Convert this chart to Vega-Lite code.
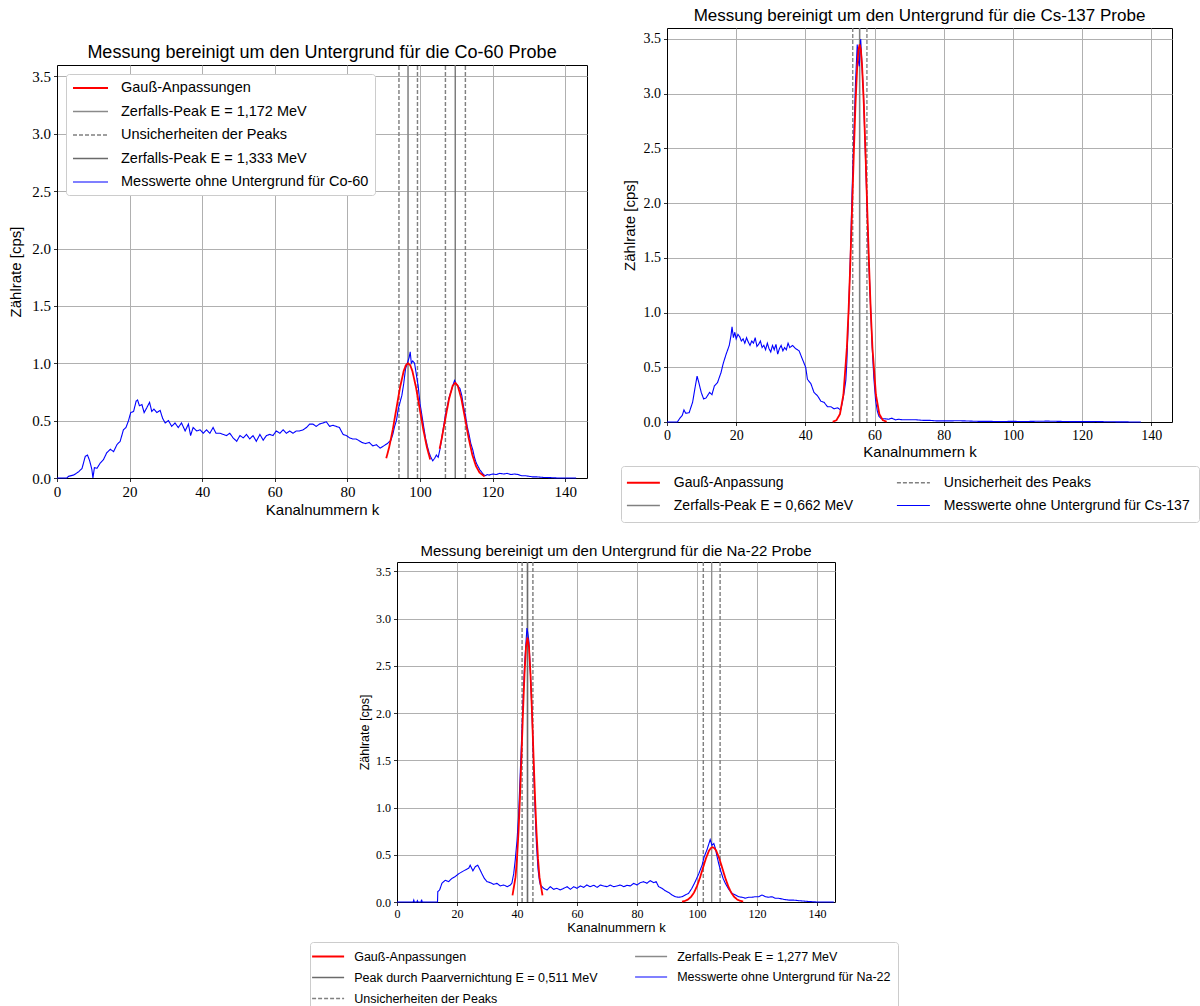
{
"$schema": "https://vega.github.io/schema/vega-lite/v6.json",
"padding": {"left": 8, "top": 6, "right": 0, "bottom": 0},
"datasets": {
"co_b": [{"s":"b","x":0,"y":0},{"s":"b","x":2.7,"y":0},{"s":"b","x":3.2,"y":0.015},{"s":"b","x":4.6,"y":0.026},{"s":"b","x":6.0,"y":0.055},{"s":"b","x":6.9,"y":0.084},{"s":"b","x":7.8,"y":0.19},{"s":"b","x":8.4,"y":0.2},{"s":"b","x":9.0,"y":0.15},{"s":"b","x":9.6,"y":0.075},{"s":"b","x":9.9,"y":0.0},{"s":"b","x":10.3,"y":0.09},{"s":"b","x":11.0,"y":0.084},{"s":"b","x":11.9,"y":0.13},{"s":"b","x":12.8,"y":0.16},{"s":"b","x":13.7,"y":0.22},{"s":"b","x":14.7,"y":0.25},{"s":"b","x":15.6,"y":0.23},{"s":"b","x":16.5,"y":0.29},{"s":"b","x":17.4,"y":0.32},{"s":"b","x":18.3,"y":0.42},{"s":"b","x":19.0,"y":0.44},{"s":"b","x":19.7,"y":0.5},{"s":"b","x":20.3,"y":0.57},{"s":"b","x":21.1,"y":0.58},{"s":"b","x":21.8,"y":0.67},{"s":"b","x":22.2,"y":0.68},{"s":"b","x":22.7,"y":0.63},{"s":"b","x":23.4,"y":0.64},{"s":"b","x":24.0,"y":0.57},{"s":"b","x":24.7,"y":0.61},{"s":"b","x":25.5,"y":0.66},{"s":"b","x":26.1,"y":0.58},{"s":"b","x":26.7,"y":0.6},{"s":"b","x":27.5,"y":0.57},{"s":"b","x":28.4,"y":0.59},{"s":"b","x":29.1,"y":0.52},{"s":"b","x":29.8,"y":0.48},{"s":"b","x":30.7,"y":0.5},{"s":"b","x":31.6,"y":0.45},{"s":"b","x":32.5,"y":0.48},{"s":"b","x":33.4,"y":0.44},{"s":"b","x":34.3,"y":0.48},{"s":"b","x":35.3,"y":0.41},{"s":"b","x":36.2,"y":0.47},{"s":"b","x":36.8,"y":0.37},{"s":"b","x":37.5,"y":0.44},{"s":"b","x":38.5,"y":0.41},{"s":"b","x":39.4,"y":0.42},{"s":"b","x":40.3,"y":0.39},{"s":"b","x":41.2,"y":0.42},{"s":"b","x":42.1,"y":0.39},{"s":"b","x":43.0,"y":0.44},{"s":"b","x":43.8,"y":0.39},{"s":"b","x":44.9,"y":0.39},{"s":"b","x":45.8,"y":0.38},{"s":"b","x":46.7,"y":0.37},{"s":"b","x":47.6,"y":0.39},{"s":"b","x":48.5,"y":0.35},{"s":"b","x":49.5,"y":0.32},{"s":"b","x":50.4,"y":0.37},{"s":"b","x":51.3,"y":0.35},{"s":"b","x":52.2,"y":0.38},{"s":"b","x":53.1,"y":0.34},{"s":"b","x":54.0,"y":0.37},{"s":"b","x":54.9,"y":0.32},{"s":"b","x":55.9,"y":0.38},{"s":"b","x":56.8,"y":0.33},{"s":"b","x":57.7,"y":0.37},{"s":"b","x":58.6,"y":0.38},{"s":"b","x":59.5,"y":0.37},{"s":"b","x":60.4,"y":0.41},{"s":"b","x":61.4,"y":0.39},{"s":"b","x":62.3,"y":0.42},{"s":"b","x":63.2,"y":0.39},{"s":"b","x":64.1,"y":0.41},{"s":"b","x":65.0,"y":0.39},{"s":"b","x":65.9,"y":0.41},{"s":"b","x":66.8,"y":0.41},{"s":"b","x":67.8,"y":0.42},{"s":"b","x":68.7,"y":0.44},{"s":"b","x":69.6,"y":0.47},{"s":"b","x":70.5,"y":0.47},{"s":"b","x":71.4,"y":0.45},{"s":"b","x":72.3,"y":0.47},{"s":"b","x":73.3,"y":0.48},{"s":"b","x":74.2,"y":0.49},{"s":"b","x":75.1,"y":0.45},{"s":"b","x":76.0,"y":0.46},{"s":"b","x":76.9,"y":0.45},{"s":"b","x":77.8,"y":0.44},{"s":"b","x":78.8,"y":0.38},{"s":"b","x":79.7,"y":0.37},{"s":"b","x":80.6,"y":0.35},{"s":"b","x":81.5,"y":0.34},{"s":"b","x":82.4,"y":0.34},{"s":"b","x":83,"y":0.33},{"s":"b","x":84,"y":0.31},{"s":"b","x":85,"y":0.3},{"s":"b","x":86,"y":0.31},{"s":"b","x":87,"y":0.28},{"s":"b","x":88,"y":0.29},{"s":"b","x":89,"y":0.26},{"s":"b","x":90,"y":0.28},{"s":"b","x":91,"y":0.3},{"s":"b","x":92,"y":0.33},{"s":"b","x":92.5,"y":0.38},{"s":"b","x":93,"y":0.45},{"s":"b","x":93.5,"y":0.5},{"s":"b","x":94,"y":0.6},{"s":"b","x":95,"y":0.72},{"s":"b","x":95.5,"y":0.82},{"s":"b","x":96,"y":0.95},{"s":"b","x":96.5,"y":1.0},{"s":"b","x":97,"y":1.05},{"s":"b","x":97.3,"y":1.1},{"s":"b","x":97.6,"y":1.0},{"s":"b","x":98,"y":1.02},{"s":"b","x":98.5,"y":1.0},{"s":"b","x":99,"y":0.9},{"s":"b","x":99.5,"y":0.8},{"s":"b","x":100,"y":0.65},{"s":"b","x":100.5,"y":0.55},{"s":"b","x":101,"y":0.45},{"s":"b","x":101.5,"y":0.35},{"s":"b","x":102,"y":0.28},{"s":"b","x":102.5,"y":0.22},{"s":"b","x":103,"y":0.18},{"s":"b","x":103.5,"y":0.15},{"s":"b","x":104,"y":0.17},{"s":"b","x":104.5,"y":0.2},{"s":"b","x":105,"y":0.18},{"s":"b","x":105.5,"y":0.25},{"s":"b","x":106,"y":0.35},{"s":"b","x":106.5,"y":0.45},{"s":"b","x":107,"y":0.55},{"s":"b","x":107.5,"y":0.62},{"s":"b","x":108,"y":0.7},{"s":"b","x":108.5,"y":0.75},{"s":"b","x":109,"y":0.8},{"s":"b","x":109.5,"y":0.85},{"s":"b","x":110,"y":0.82},{"s":"b","x":110.5,"y":0.8},{"s":"b","x":111,"y":0.78},{"s":"b","x":111.5,"y":0.72},{"s":"b","x":112,"y":0.62},{"s":"b","x":112.5,"y":0.55},{"s":"b","x":113,"y":0.45},{"s":"b","x":113.5,"y":0.38},{"s":"b","x":114,"y":0.3},{"s":"b","x":114.5,"y":0.25},{"s":"b","x":115,"y":0.18},{"s":"b","x":115.5,"y":0.13},{"s":"b","x":116,"y":0.1},{"s":"b","x":116.5,"y":0.07},{"s":"b","x":117,"y":0.05},{"s":"b","x":117.5,"y":0.03},{"s":"b","x":118,"y":0.02},{"s":"b","x":118.5,"y":0.03},{"s":"b","x":119,"y":0.025},{"s":"b","x":120,"y":0.035},{"s":"b","x":121,"y":0.03},{"s":"b","x":122,"y":0.04},{"s":"b","x":123,"y":0.035},{"s":"b","x":124,"y":0.04},{"s":"b","x":125,"y":0.03},{"s":"b","x":126,"y":0.035},{"s":"b","x":127,"y":0.03},{"s":"b","x":128,"y":0.02},{"s":"b","x":129,"y":0.02},{"s":"b","x":130,"y":0.015},{"s":"b","x":131,"y":0.01},{"s":"b","x":132,"y":0.01},{"s":"b","x":134,"y":0.005},{"s":"b","x":136,"y":0.003},{"s":"b","x":138,"y":0},{"s":"b","x":143,"y":0}],
"co_r": [{"s":"r","g":"r1","x":90.7,"y":0.172},{"s":"r","g":"r1","x":91.5,"y":0.267},{"s":"r","g":"r1","x":92.5,"y":0.423},{"s":"r","g":"r1","x":93.5,"y":0.607},{"s":"r","g":"r1","x":94.5,"y":0.79},{"s":"r","g":"r1","x":95.5,"y":0.932},{"s":"r","g":"r1","x":96.1,"y":0.983},{"s":"r","g":"r1","x":96.7,"y":1.0},{"s":"r","g":"r1","x":97.3,"y":0.983},{"s":"r","g":"r1","x":97.9,"y":0.932},{"s":"r","g":"r1","x":98.9,"y":0.79},{"s":"r","g":"r1","x":99.9,"y":0.607},{"s":"r","g":"r1","x":100.9,"y":0.423},{"s":"r","g":"r1","x":101.9,"y":0.267},{"s":"r","g":"r1","x":102.8,"y":0.162},{"s":"r","g":"r2","x":105.4,"y":0.255},{"s":"r","g":"r2","x":106,"y":0.347},{"s":"r","g":"r2","x":107,"y":0.521},{"s":"r","g":"r2","x":108,"y":0.69},{"s":"r","g":"r2","x":109,"y":0.804},{"s":"r","g":"r2","x":109.7,"y":0.83},{"s":"r","g":"r2","x":110.4,"y":0.804},{"s":"r","g":"r2","x":111.4,"y":0.69},{"s":"r","g":"r2","x":112.4,"y":0.521},{"s":"r","g":"r2","x":113.4,"y":0.347},{"s":"r","g":"r2","x":114.4,"y":0.203},{"s":"r","g":"r2","x":115.4,"y":0.105},{"s":"r","g":"r2","x":116.4,"y":0.047},{"s":"r","g":"r2","x":117.8,"y":0.013}],
"co_v": [{"s":"d","g":"a","x":94.2,"y":0},{"s":"d","g":"a","x":94.2,"y":3.6},{"s":"v1","g":"b","x":96.7,"y":0},{"s":"v1","g":"b","x":96.7,"y":3.6},{"s":"d","g":"c","x":99.3,"y":0},{"s":"d","g":"c","x":99.3,"y":3.6},{"s":"d","g":"e","x":107.0,"y":0},{"s":"d","g":"e","x":107.0,"y":3.6},{"s":"v2","g":"f","x":109.7,"y":0},{"s":"v2","g":"f","x":109.7,"y":3.6},{"s":"d","g":"h","x":112.5,"y":0},{"s":"d","g":"h","x":112.5,"y":3.6}],
"cs_b": [{"s":"b","x":0,"y":0},{"s":"b","x":3.0,"y":0},{"s":"b","x":3.7,"y":0.034},{"s":"b","x":4.4,"y":0.06},{"s":"b","x":4.9,"y":0.11},{"s":"b","x":5.4,"y":0.08},{"s":"b","x":6.4,"y":0.085},{"s":"b","x":7.4,"y":0.18},{"s":"b","x":8.2,"y":0.33},{"s":"b","x":8.7,"y":0.42},{"s":"b","x":9.2,"y":0.36},{"s":"b","x":9.9,"y":0.27},{"s":"b","x":10.6,"y":0.21},{"s":"b","x":11.3,"y":0.22},{"s":"b","x":12.3,"y":0.27},{"s":"b","x":13.0,"y":0.25},{"s":"b","x":13.7,"y":0.33},{"s":"b","x":14.6,"y":0.36},{"s":"b","x":15.6,"y":0.45},{"s":"b","x":16.3,"y":0.54},{"s":"b","x":17.1,"y":0.62},{"s":"b","x":18.0,"y":0.7},{"s":"b","x":18.5,"y":0.79},{"s":"b","x":18.8,"y":0.87},{"s":"b","x":19.2,"y":0.77},{"s":"b","x":19.6,"y":0.82},{"s":"b","x":20,"y":0.76},{"s":"b","x":20.5,"y":0.8},{"s":"b","x":21,"y":0.78},{"s":"b","x":21.5,"y":0.74},{"s":"b","x":22,"y":0.76},{"s":"b","x":22.5,"y":0.72},{"s":"b","x":23,"y":0.77},{"s":"b","x":23.5,"y":0.73},{"s":"b","x":24,"y":0.7},{"s":"b","x":24.5,"y":0.74},{"s":"b","x":25,"y":0.72},{"s":"b","x":25.5,"y":0.77},{"s":"b","x":26,"y":0.69},{"s":"b","x":26.5,"y":0.71},{"s":"b","x":27,"y":0.74},{"s":"b","x":27.5,"y":0.68},{"s":"b","x":28,"y":0.7},{"s":"b","x":28.5,"y":0.66},{"s":"b","x":29,"y":0.72},{"s":"b","x":29.5,"y":0.67},{"s":"b","x":30,"y":0.64},{"s":"b","x":30.5,"y":0.7},{"s":"b","x":31,"y":0.66},{"s":"b","x":31.5,"y":0.71},{"s":"b","x":32,"y":0.62},{"s":"b","x":32.5,"y":0.67},{"s":"b","x":33,"y":0.7},{"s":"b","x":33.5,"y":0.65},{"s":"b","x":34,"y":0.68},{"s":"b","x":34.5,"y":0.66},{"s":"b","x":35,"y":0.72},{"s":"b","x":35.5,"y":0.68},{"s":"b","x":36.3,"y":0.7},{"s":"b","x":37.2,"y":0.67},{"s":"b","x":38.2,"y":0.65},{"s":"b","x":39.2,"y":0.57},{"s":"b","x":40.1,"y":0.5},{"s":"b","x":40.6,"y":0.39},{"s":"b","x":41.6,"y":0.35},{"s":"b","x":42.5,"y":0.27},{"s":"b","x":43.5,"y":0.24},{"s":"b","x":44.5,"y":0.19},{"s":"b","x":45.4,"y":0.18},{"s":"b","x":46.4,"y":0.14},{"s":"b","x":47.4,"y":0.14},{"s":"b","x":48.3,"y":0.12},{"s":"b","x":49.3,"y":0.13},{"s":"b","x":50.2,"y":0.11},{"s":"b","x":50.7,"y":0.18},{"s":"b","x":51.2,"y":0.27},{"s":"b","x":51.7,"y":0.38},{"s":"b","x":52,"y":0.55},{"s":"b","x":52.5,"y":1.0},{"s":"b","x":53,"y":1.5},{"s":"b","x":53.5,"y":2.1},{"s":"b","x":54,"y":2.6},{"s":"b","x":54.5,"y":3.1},{"s":"b","x":55,"y":3.45},{"s":"b","x":55.3,"y":3.3},{"s":"b","x":55.6,"y":3.25},{"s":"b","x":56,"y":3.5},{"s":"b","x":56.3,"y":3.3},{"s":"b","x":56.8,"y":3.0},{"s":"b","x":57.3,"y":2.5},{"s":"b","x":57.8,"y":2.0},{"s":"b","x":58.3,"y":1.5},{"s":"b","x":58.8,"y":1.1},{"s":"b","x":59.3,"y":0.7},{"s":"b","x":59.8,"y":0.4},{"s":"b","x":60.3,"y":0.2},{"s":"b","x":60.8,"y":0.1},{"s":"b","x":61.3,"y":0.05},{"s":"b","x":62,"y":0.03},{"s":"b","x":63,"y":0.03},{"s":"b","x":64,"y":0.025},{"s":"b","x":65,"y":0.035},{"s":"b","x":66,"y":0.02},{"s":"b","x":67,"y":0.025},{"s":"b","x":68,"y":0.02},{"s":"b","x":70,"y":0.02},{"s":"b","x":72,"y":0.02},{"s":"b","x":74,"y":0.015},{"s":"b","x":76,"y":0.015},{"s":"b","x":78,"y":0.01},{"s":"b","x":80,"y":0.01},{"s":"b","x":82,"y":0.01},{"s":"b","x":84,"y":0.012},{"s":"b","x":86,"y":0.01},{"s":"b","x":88,"y":0.008},{"s":"b","x":90,"y":0.006},{"s":"b","x":92,"y":0.006},{"s":"b","x":95,"y":0.005},{"s":"b","x":98,"y":0.005},{"s":"b","x":100,"y":0.006},{"s":"b","x":103,"y":0.004},{"s":"b","x":106,"y":0.006},{"s":"b","x":110,"y":0.008},{"s":"b","x":113,"y":0.006},{"s":"b","x":116,"y":0.004},{"s":"b","x":120,"y":0.003},{"s":"b","x":124,"y":0.004},{"s":"b","x":128,"y":0.002},{"s":"b","x":132,"y":0.001},{"s":"b","x":137,"y":0}],
"cs_r": [{"s":"r","x":47.9,"y":0.0025},{"s":"r","x":49,"y":0.0166},{"s":"r","x":50,"y":0.072},{"s":"r","x":51,"y":0.249},{"s":"r","x":52,"y":0.677},{"s":"r","x":52.5,"y":1.02},{"s":"r","x":53,"y":1.449},{"s":"r","x":53.5,"y":1.939},{"s":"r","x":54,"y":2.446},{"s":"r","x":54.5,"y":2.908},{"s":"r","x":55,"y":3.254},{"s":"r","x":55.35,"y":3.4},{"s":"r","x":55.7,"y":3.45},{"s":"r","x":56.05,"y":3.4},{"s":"r","x":56.4,"y":3.254},{"s":"r","x":56.9,"y":2.908},{"s":"r","x":57.4,"y":2.446},{"s":"r","x":57.9,"y":1.939},{"s":"r","x":58.4,"y":1.449},{"s":"r","x":58.9,"y":1.02},{"s":"r","x":59.4,"y":0.677},{"s":"r","x":60.4,"y":0.249},{"s":"r","x":61.4,"y":0.072},{"s":"r","x":62.4,"y":0.0166},{"s":"r","x":63.5,"y":0.0025}],
"cs_v": [{"s":"d","g":"a","x":53.7,"y":0},{"s":"d","g":"a","x":53.7,"y":3.6},{"s":"v","g":"b","x":55.7,"y":0},{"s":"v","g":"b","x":55.7,"y":3.6},{"s":"d","g":"c","x":57.8,"y":0},{"s":"d","g":"c","x":57.8,"y":3.6}],
"na_b": [{"s":"b","x":0,"y":0},{"s":"b","x":5.4,"y":0},{"s":"b","x":5.6,"y":0.02},{"s":"b","x":5.8,"y":0},{"s":"b","x":6.6,"y":0},{"s":"b","x":6.8,"y":0.015},{"s":"b","x":7.0,"y":0},{"s":"b","x":8.0,"y":0},{"s":"b","x":8.2,"y":0.025},{"s":"b","x":8.4,"y":0},{"s":"b","x":13.5,"y":0},{"s":"b","x":13.6,"y":0.11},{"s":"b","x":14.2,"y":0.127},{"s":"b","x":15.0,"y":0.2},{"s":"b","x":16.1,"y":0.23},{"s":"b","x":17.2,"y":0.215},{"s":"b","x":18.3,"y":0.25},{"s":"b","x":19.4,"y":0.27},{"s":"b","x":20.6,"y":0.3},{"s":"b","x":21.7,"y":0.32},{"s":"b","x":22.8,"y":0.34},{"s":"b","x":23.9,"y":0.357},{"s":"b","x":24.4,"y":0.39},{"s":"b","x":25.3,"y":0.33},{"s":"b","x":26.1,"y":0.374},{"s":"b","x":26.9,"y":0.39},{"s":"b","x":27.6,"y":0.346},{"s":"b","x":28.3,"y":0.3},{"s":"b","x":29.1,"y":0.25},{"s":"b","x":30.0,"y":0.215},{"s":"b","x":31.1,"y":0.205},{"s":"b","x":32.2,"y":0.187},{"s":"b","x":33.3,"y":0.198},{"s":"b","x":34.4,"y":0.17},{"s":"b","x":35.6,"y":0.18},{"s":"b","x":36.7,"y":0.162},{"s":"b","x":37.8,"y":0.18},{"s":"b","x":38.3,"y":0.2},{"s":"b","x":38.9,"y":0.3},{"s":"b","x":39.4,"y":0.44},{"s":"b","x":40,"y":0.65},{"s":"b","x":40.5,"y":0.9},{"s":"b","x":41,"y":1.3},{"s":"b","x":41.5,"y":1.7},{"s":"b","x":42,"y":2.1},{"s":"b","x":42.5,"y":2.5},{"s":"b","x":43,"y":2.75},{"s":"b","x":43.3,"y":2.9},{"s":"b","x":43.6,"y":2.85},{"s":"b","x":44,"y":2.75},{"s":"b","x":44.5,"y":2.4},{"s":"b","x":45,"y":2.0},{"s":"b","x":45.5,"y":1.5},{"s":"b","x":46,"y":1.0},{"s":"b","x":46.5,"y":0.6},{"s":"b","x":47,"y":0.35},{"s":"b","x":47.5,"y":0.22},{"s":"b","x":47.8,"y":0.18},{"s":"b","x":48.9,"y":0.145},{"s":"b","x":50.0,"y":0.127},{"s":"b","x":51.1,"y":0.162},{"s":"b","x":52.2,"y":0.134},{"s":"b","x":53.3,"y":0.145},{"s":"b","x":54.4,"y":0.127},{"s":"b","x":55.6,"y":0.145},{"s":"b","x":56.7,"y":0.162},{"s":"b","x":57.8,"y":0.134},{"s":"b","x":58.9,"y":0.162},{"s":"b","x":60.0,"y":0.145},{"s":"b","x":61.1,"y":0.17},{"s":"b","x":62.2,"y":0.155},{"s":"b","x":63.3,"y":0.18},{"s":"b","x":64.4,"y":0.162},{"s":"b","x":65.6,"y":0.177},{"s":"b","x":66.7,"y":0.155},{"s":"b","x":67.8,"y":0.18},{"s":"b","x":68.9,"y":0.17},{"s":"b","x":70.0,"y":0.162},{"s":"b","x":71.1,"y":0.18},{"s":"b","x":72.2,"y":0.162},{"s":"b","x":73.3,"y":0.17},{"s":"b","x":74.4,"y":0.18},{"s":"b","x":75.6,"y":0.162},{"s":"b","x":76.7,"y":0.177},{"s":"b","x":77.8,"y":0.17},{"s":"b","x":78.9,"y":0.198},{"s":"b","x":80.0,"y":0.18},{"s":"b","x":81.1,"y":0.205},{"s":"b","x":82.2,"y":0.215},{"s":"b","x":83.3,"y":0.198},{"s":"b","x":84.4,"y":0.226},{"s":"b","x":85.6,"y":0.205},{"s":"b","x":86.4,"y":0.215},{"s":"b","x":87.2,"y":0.162},{"s":"b","x":88.3,"y":0.145},{"s":"b","x":89.4,"y":0.12},{"s":"b","x":90.6,"y":0.1},{"s":"b","x":91.7,"y":0.074},{"s":"b","x":92.8,"y":0.056},{"s":"b","x":93.9,"y":0.05},{"s":"b","x":95.0,"y":0.056},{"s":"b","x":96.1,"y":0.074},{"s":"b","x":97.2,"y":0.092},{"s":"b","x":98.3,"y":0.145},{"s":"b","x":99.4,"y":0.215},{"s":"b","x":100.6,"y":0.3},{"s":"b","x":101.7,"y":0.39},{"s":"b","x":102.4,"y":0.48},{"s":"b","x":103.3,"y":0.55},{"s":"b","x":104.0,"y":0.62},{"s":"b","x":104.4,"y":0.66},{"s":"b","x":105.0,"y":0.6},{"s":"b","x":105.6,"y":0.62},{"s":"b","x":106.1,"y":0.57},{"s":"b","x":106.7,"y":0.48},{"s":"b","x":107.2,"y":0.41},{"s":"b","x":107.8,"y":0.34},{"s":"b","x":108.7,"y":0.25},{"s":"b","x":109.4,"y":0.2},{"s":"b","x":110.6,"y":0.134},{"s":"b","x":111.7,"y":0.092},{"s":"b","x":112.8,"y":0.074},{"s":"b","x":113.9,"y":0.056},{"s":"b","x":115.0,"y":0.05},{"s":"b","x":116.1,"y":0.04},{"s":"b","x":117.2,"y":0.05},{"s":"b","x":118.3,"y":0.05},{"s":"b","x":119.4,"y":0.056},{"s":"b","x":120.6,"y":0.056},{"s":"b","x":121.7,"y":0.074},{"s":"b","x":122.8,"y":0.056},{"s":"b","x":123.9,"y":0.05},{"s":"b","x":125.0,"y":0.056},{"s":"b","x":126.1,"y":0.04},{"s":"b","x":127.2,"y":0.04},{"s":"b","x":128.9,"y":0.028},{"s":"b","x":130.6,"y":0.02},{"s":"b","x":132.2,"y":0.02},{"s":"b","x":133.9,"y":0.014},{"s":"b","x":135.6,"y":0.01},{"s":"b","x":137.8,"y":0.004},{"s":"b","x":140,"y":0},{"s":"b","x":145.6,"y":0}],
"na_r": [{"s":"r","g":"r1","x":38.5,"y":0.07},{"s":"r","g":"r1","x":39.5,"y":0.263},{"s":"r","g":"r1","x":40,"y":0.459},{"s":"r","g":"r1","x":40.5,"y":0.741},{"s":"r","g":"r1","x":41,"y":1.113},{"s":"r","g":"r1","x":41.5,"y":1.55},{"s":"r","g":"r1","x":42,"y":2.009},{"s":"r","g":"r1","x":42.5,"y":2.415},{"s":"r","g":"r1","x":43,"y":2.698},{"s":"r","g":"r1","x":43.5,"y":2.8},{"s":"r","g":"r1","x":44,"y":2.698},{"s":"r","g":"r1","x":44.5,"y":2.415},{"s":"r","g":"r1","x":45,"y":2.009},{"s":"r","g":"r1","x":45.5,"y":1.55},{"s":"r","g":"r1","x":46,"y":1.113},{"s":"r","g":"r1","x":46.5,"y":0.741},{"s":"r","g":"r1","x":47,"y":0.459},{"s":"r","g":"r1","x":47.5,"y":0.263},{"s":"r","g":"r1","x":48.5,"y":0.07},{"s":"r","g":"r2","x":95,"y":0.005},{"s":"r","g":"r2","x":96,"y":0.012},{"s":"r","g":"r2","x":97,"y":0.0265},{"s":"r","g":"r2","x":98,"y":0.054},{"s":"r","g":"r2","x":99,"y":0.099},{"s":"r","g":"r2","x":100,"y":0.168},{"s":"r","g":"r2","x":101,"y":0.258},{"s":"r","g":"r2","x":102,"y":0.362},{"s":"r","g":"r2","x":103,"y":0.464},{"s":"r","g":"r2","x":104,"y":0.543},{"s":"r","g":"r2","x":104.6,"y":0.5705},{"s":"r","g":"r2","x":105.2,"y":0.58},{"s":"r","g":"r2","x":105.8,"y":0.5705},{"s":"r","g":"r2","x":106.4,"y":0.543},{"s":"r","g":"r2","x":107.4,"y":0.464},{"s":"r","g":"r2","x":108.4,"y":0.362},{"s":"r","g":"r2","x":109.4,"y":0.258},{"s":"r","g":"r2","x":110.4,"y":0.168},{"s":"r","g":"r2","x":111.4,"y":0.099},{"s":"r","g":"r2","x":112.4,"y":0.054},{"s":"r","g":"r2","x":113.4,"y":0.0265},{"s":"r","g":"r2","x":114.4,"y":0.012},{"s":"r","g":"r2","x":115.4,"y":0.005}],
"na_v": [{"s":"d","g":"a","x":41.7,"y":0},{"s":"d","g":"a","x":41.7,"y":3.6},{"s":"v1","g":"b","x":43.5,"y":0},{"s":"v1","g":"b","x":43.5,"y":3.6},{"s":"d","g":"c","x":45.3,"y":0},{"s":"d","g":"c","x":45.3,"y":3.6},{"s":"d","g":"e","x":102.1,"y":0},{"s":"d","g":"e","x":102.1,"y":3.6},{"s":"v2","g":"f","x":104.9,"y":0},{"s":"v2","g":"f","x":104.9,"y":3.6},{"s":"d","g":"h","x":107.7,"y":0},{"s":"d","g":"h","x":107.7,"y":3.6}]
},
"vconcat": [
{"hconcat": [
 {"vconcat": [
  {"width": 530, "height": 15, "view": {"stroke": null}, "data": {"values": []}, "mark": {"type": "point", "opacity": 0}},
  {"width": 530, "height": 413,
   "title": {"text": "Messung bereinigt um den Untergrund für die Co-60 Probe", "fontSize": 18, "offset": 0},
   "encoding": {
    "x": {"field": "x", "type": "quantitative", "scale": {"domain": [0, 146], "nice": false, "zero": false}, "axis": {"values": [0,20,40,60,80,100,120,140], "title": "Kanalnummern k", "labelFontSize": 15, "titleFontSize": 15, "titlePadding": 3}},
    "y": {"field": "y", "type": "quantitative", "scale": {"domain": [0, 3.6], "nice": false}, "axis": {"values": [0,0.5,1,1.5,2,2.5,3,3.5], "format": ".1f", "title": "Zählrate [cps]", "labelFontSize": 15, "titleFontSize": 15, "titlePadding": 8}},
    "color": {"field": "s", "type": "nominal", "scale": {"domain": ["r","v1","d","v2","b"], "range": ["#ff0000","#8a8a8a","#808080","#6a6a6a","#0000ff"]},
      "legend": {"orient": "top-left", "offset": 9, "title": null, "labelExpr": "datum.value == 'r' ? 'Gauß-Anpassungen' : datum.value == 'v1' ? 'Zerfalls-Peak E = 1,172 MeV' : datum.value == 'd' ? 'Unsicherheiten der Peaks' : datum.value == 'v2' ? 'Zerfalls-Peak E = 1,333 MeV' : 'Messwerte ohne Untergrund für Co-60'", "labelFontSize": 14.5, "symbolType": "M-2.5,0H2.5", "symbolSize": 196, "symbolOffset": 10.5, "padding": 6, "rowPadding": 8.5, "labelOffset": 22.5}},
    "strokeDash": {"field": "s", "type": "nominal", "scale": {"domain": ["r","v1","d","v2","b"], "range": [[1,0],[1,0],[4,2],[1,0],[1,0]]}},
    "strokeWidth": {"field": "s", "type": "nominal", "scale": {"domain": ["r","v1","d","v2","b"], "range": [1.8,1.1,1,1.1,1.5]}}
   },
   "layer": [
    {"data": {"name": "co_v"}, "mark": "line", "encoding": {"detail": {"field": "g"}}},
    {"data": {"name": "co_b"}, "mark": "line"},
    {"data": {"name": "co_r"}, "mark": "line", "encoding": {"detail": {"field": "g"}}}
   ]
  }
 ], "spacing": 0,
 "resolve": {"scale": {"color": "independent", "strokeDash": "independent", "strokeWidth": "independent", "x": "independent", "y": "independent"}, "legend": {"color": "independent", "strokeDash": "independent", "strokeWidth": "independent"}}},
 {"width": 505, "height": 394,
  "title": {"text": "Messung bereinigt um den Untergrund für die Cs-137 Probe", "fontSize": 17, "offset": 0},
  "encoding": {
   "x": {"field": "x", "type": "quantitative", "scale": {"domain": [0, 146], "nice": false, "zero": false}, "axis": {"values": [0,20,40,60,80,100,120,140], "title": "Kanalnummern k", "labelFontSize": 14, "titleFontSize": 15, "titlePadding": 2}},
   "y": {"field": "y", "type": "quantitative", "scale": {"domain": [0, 3.6], "nice": false}, "axis": {"values": [0,0.5,1,1.5,2,2.5,3,3.5], "format": ".1f", "title": "Zählrate [cps]", "labelFontSize": 14, "titleFontSize": 15, "titlePadding": 6}},
   "color": {"field": "s", "type": "nominal", "scale": {"domain": ["r","v","d","b"], "range": ["#ff0000","#808080","#808080","#0000ff"]},
     "legend": {"orient": "none", "legendX": -46, "legendY": 438, "columns": 2, "columnPadding": 40, "title": null, "labelExpr": "datum.value == 'r' ? 'Gauß-Anpassung' : datum.value == 'd' ? 'Unsicherheit des Peaks' : datum.value == 'v' ? 'Zerfalls-Peak E = 0,662 MeV' : 'Messwerte ohne Untergrund für Cs-137'", "labelFontSize": 14, "symbolType": "M-2.5,0H2.5", "symbolSize": 174, "symbolOffset": 5.9, "padding": 9, "rowPadding": 8, "labelOffset": 22.9}},
   "strokeDash": {"field": "s", "type": "nominal", "scale": {"domain": ["r","v","d","b"], "range": [[1,0],[1,0],[4,2],[1,0]]}},
   "strokeWidth": {"field": "s", "type": "nominal", "scale": {"domain": ["r","v","d","b"], "range": [1.8,1.1,1,1.5]}}
  },
  "layer": [
   {"data": {"name": "cs_v"}, "mark": "line", "encoding": {"detail": {"field": "g"}}},
   {"data": {"name": "cs_b"}, "mark": "line"},
   {"data": {"name": "cs_r"}, "mark": "line"}
  ]
 }
], "spacing": 32,
 "resolve": {"scale": {"color": "independent", "strokeDash": "independent", "strokeWidth": "independent", "x": "independent", "y": "independent"}, "legend": {"color": "independent", "strokeDash": "independent", "strokeWidth": "independent"}}},
{"hconcat": [
 {"width": 240, "height": 1, "view": {"stroke": null}, "data": {"values": []}, "mark": {"type": "point", "opacity": 0}},
 {"width": 438, "height": 340,
 "title": {"text": "Messung bereinigt um den Untergrund für die Na-22 Probe", "fontSize": 15, "offset": 0},
 "encoding": {
  "x": {"field": "x", "type": "quantitative", "scale": {"domain": [0, 146], "nice": false, "zero": false}, "axis": {"values": [0,20,40,60,80,100,120,140], "title": "Kanalnummern k", "labelFontSize": 12, "titleFontSize": 13, "titlePadding": 2}},
  "y": {"field": "y", "type": "quantitative", "scale": {"domain": [0, 3.6], "nice": false}, "axis": {"values": [0,0.5,1,1.5,2,2.5,3,3.5], "format": ".1f", "title": "Zählrate [cps]", "labelFontSize": 12, "titleFontSize": 12.5, "titlePadding": 4}},
  "color": {"field": "s", "type": "nominal", "scale": {"domain": ["r","v1","d","v2","b"], "range": ["#ff0000","#6a6a6a","#808080","#8a8a8a","#0000ff"]},
    "legend": {"orient": "none", "legendX": -87, "legendY": 380, "columns": 2, "columnPadding": 34, "title": null, "labelExpr": "datum.value == 'r' ? 'Gauß-Anpassungen' : datum.value == 'v2' ? 'Zerfalls-Peak E = 1,277 MeV' : datum.value == 'v1' ? 'Peak durch Paarvernichtung E = 0,511 MeV' : datum.value == 'b' ? 'Messwerte ohne Untergrund für Na-22' : 'Unsicherheiten der Peaks'", "labelFontSize": 12.5, "symbolType": "M-2.5,0H2.5", "symbolSize": 164, "symbolOffset": 3.6, "padding": 7, "rowPadding": 7, "labelOffset": 18.6}},
  "strokeDash": {"field": "s", "type": "nominal", "scale": {"domain": ["r","v1","d","v2","b"], "range": [[1,0],[1,0],[4,2],[1,0],[1,0]]}},
  "strokeWidth": {"field": "s", "type": "nominal", "scale": {"domain": ["r","v1","d","v2","b"], "range": [1.8,1.1,1,1.1,1.5]}}
 },
 "layer": [
  {"data": {"name": "na_v"}, "mark": "line", "encoding": {"detail": {"field": "g"}}},
  {"data": {"name": "na_b"}, "mark": "line"},
  {"data": {"name": "na_r"}, "mark": "line", "encoding": {"detail": {"field": "g"}}}
 ]
 }
], "spacing": 12,
 "resolve": {"scale": {"color": "independent", "strokeDash": "independent", "strokeWidth": "independent", "x": "independent", "y": "independent"}, "legend": {"color": "independent", "strokeDash": "independent", "strokeWidth": "independent"}}}
],
"spacing": 20,
"resolve": {"scale": {"color": "independent", "strokeDash": "independent", "strokeWidth": "independent", "x": "independent", "y": "independent"}, "legend": {"color": "independent", "strokeDash": "independent", "strokeWidth": "independent"}},
"config": {
 "view": {"stroke": "#000000", "strokeWidth": 1},
 "axis": {"domainColor": "#000000", "domainWidth": 1, "tickColor": "#000000", "tickSize": 3.5, "tickWidth": 0.8, "labelColor": "#000000", "titleColor": "#000000", "labelFont": "Liberation Serif", "titleFont": "Liberation Sans", "titleFontWeight": "normal", "gridColor": "#b0b0b0", "gridWidth": 1, "gridOpacity": 1, "labelPadding": 3, "labelFlush": false, "labelOverlap": false},
 "title": {"font": "Liberation Sans", "fontWeight": "normal", "color": "#000000", "anchor": "middle"},
 "legend": {"labelFont": "Liberation Sans", "labelColor": "#000000", "fillColor": "#ffffff", "strokeColor": "#cccccc", "cornerRadius": 3, "labelLimit": 400}
}
}
